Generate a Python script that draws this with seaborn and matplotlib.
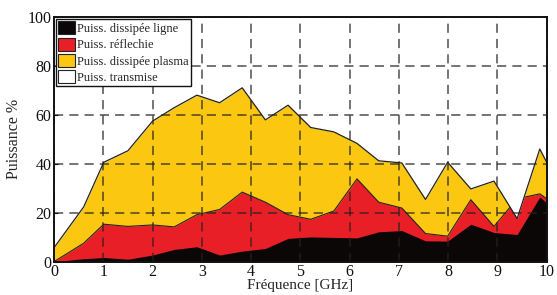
import numpy as np
import pandas as pd
import matplotlib
matplotlib.use("Agg")
import matplotlib.pyplot as plt
from matplotlib.patches import Patch
import seaborn as sns

# frequency points (GHz) and cumulative power shares (%)
freq = [0.0, 0.6, 1.01, 1.5, 2.0, 2.44, 2.9, 3.36, 3.82, 4.29, 4.75, 5.21,
        5.68, 6.15, 6.59, 7.06, 7.54, 7.99, 8.46, 8.93, 9.4, 9.86, 10.0]
ligne = [0.0, 1.2, 1.7, 1.0, 2.7, 5.0, 6.1, 2.7, 4.3, 5.4, 9.5, 10.1,
         9.9, 9.7, 12.2, 12.7, 8.5, 8.4, 15.3, 11.9, 11.1, 26.4, 24.0]
reflechie = [0.0, 7.5, 15.3, 14.4, 15.0, 14.2, 19.2, 21.3, 28.4, 24.3, 19.2, 17.3,
             20.7, 33.8, 24.3, 21.9, 11.5, 10.4, 25.3, 14.4, 25.7, 27.7, 25.7]
plasma = [5.7, 22.3, 40.6, 45.3, 57.4, 62.9, 68.0, 64.9, 71.0, 57.9, 63.9, 54.8,
          53.0, 48.3, 41.2, 40.3, 25.4, 40.6, 29.7, 32.9, 17.6, 46.0, 40.6]

labels = ["Puiss. dissipée ligne", "Puiss. réflechie",
          "Puiss. dissipée plasma", "Puiss. transmise"]
colors = ["#0b0707", "#e81f27", "#fbc711", "white"]

df = pd.DataFrame({"freq": freq, "ligne": ligne, "reflechie": reflechie,
                   "plasma": plasma})

sns.set_style("ticks")
plt.rcParams["font.family"] = ["Liberation Serif", "DejaVu Serif"]

fig = plt.figure(figsize=(5.57, 2.95), dpi=100)
ax = fig.add_axes([0.097, 0.113, 0.8845, 0.83])

edge = "#222222"
ax.fill_between(df["freq"], 0, df["plasma"], color=colors[2], lw=0, zorder=1)
ax.fill_between(df["freq"], 0, df["reflechie"], color=colors[1], lw=0, zorder=1.2)
sns.lineplot(data=df, x="freq", y="reflechie", color=edge, lw=0.8, ax=ax, zorder=1.3)
ax.fill_between(df["freq"], 0, df["ligne"], color=colors[0], lw=0, zorder=1.4)
# transmitted share: everything above the plasma curve up to 100 %
ax.fill_between(df["freq"], df["plasma"], 100, color=colors[3], lw=0, zorder=1.5)
sns.lineplot(data=df, x="freq", y="plasma", color=edge, lw=0.9, ax=ax, zorder=1.6)

ax.set_xlim(0, 10)
ax.set_ylim(0, 100)
ax.set_xticks(range(0, 11))
ax.set_yticks(range(0, 101, 20))
ax.grid(True, color="#222222", ls=(0, (6, 4)), lw=1.1, alpha=0.8)
ax.set_axisbelow(False)
ax.xaxis.set_zorder(5)
ax.yaxis.set_zorder(5)
for s in ax.spines.values():
    s.set_linewidth(1.4)
    s.set_color("#111111")
    s.set_zorder(6)
ax.tick_params(direction="in", length=3, labelsize=11.5, pad=2, colors="#111111")

ax.set_xlabel("Fréquence [GHz]", fontsize=11, labelpad=-1)
ax.set_ylabel("Puissance %", fontsize=11.5, labelpad=4)

handles = [Patch(facecolor=c, edgecolor="#222222", lw=0.8) for c in colors]
leg = ax.legend(handles, labels, loc="upper left", fontsize=9,
                frameon=True, fancybox=False, framealpha=1,
                edgecolor="#111111", borderaxespad=0.15, borderpad=0.2,
                handlelength=1.3, handleheight=1.25, handletextpad=0.2,
                labelspacing=0.2)
leg.get_frame().set_linewidth(1.0)
leg.set_zorder(10)

fig.savefig("out.png", dpi=100)
